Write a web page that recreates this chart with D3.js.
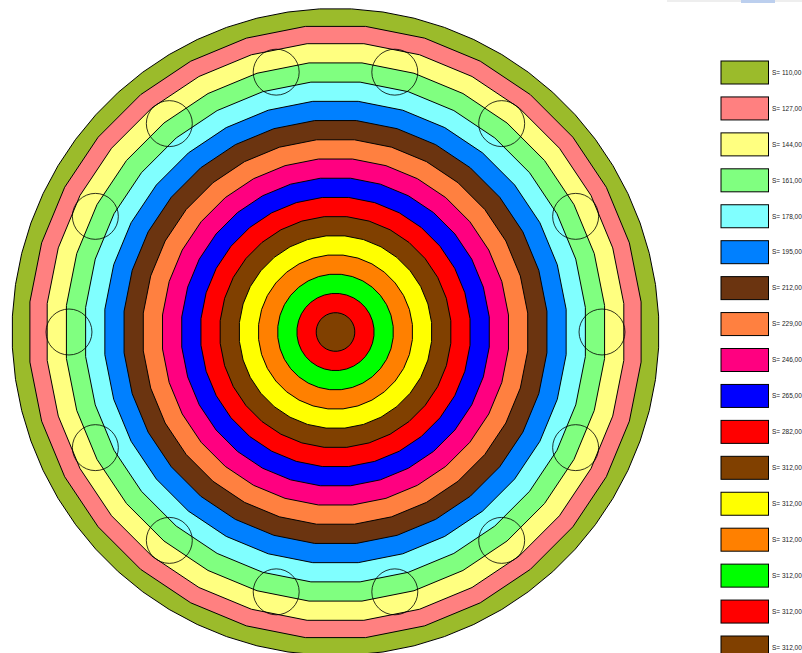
<!DOCTYPE html>
<html>
<head>
<meta charset="utf-8">
<script src="https://cdn.jsdelivr.net/npm/d3@7"></script>
<style>
  html, body { margin: 0; padding: 0; background: #fff; overflow: hidden; }
  svg { display: block; }
  text { font-family: "Liberation Sans", Arial, sans-serif; }
</style>
</head>
<body>
<svg id="canvas" width="802" height="653"></svg>
<script>
// Legend labels, top to bottom (outer ring first)
let labels = ['S= 110,00', 'S= 127,00', 'S= 144,00', 'S= 161,00', 'S= 178,00', 'S= 195,00',
              'S= 212,00', 'S= 229,00', 'S= 246,00', 'S= 265,00', 'S= 282,00', 'S= 312,00',
              'S= 312,00', 'S= 312,00', 'S= 312,00', 'S= 312,00', 'S= 312,00']

let colors = ['#9bbb2b', '#ff8080', '#ffff80', '#80ff80', '#80ffff', '#0080ff',
              '#6b3410', '#ff8040', '#ff0080', '#0000ff', '#ff0000', '#804000',
              '#ffff00', '#ff8000', '#00ff00', '#ff0000', '#804000']

// Ring depth, counted out from the centre
let depths = [16.75, 15.9, 15, 14, 13, 12, 11, 10, 9, 8, 7, 6, 5, 4, 3, 2, 1]

// Small circles on the pitch ring
let holeCount = 14
let holeDepth = 13.8
let holeSize = 1.19

let canvas = d3.select('#canvas')

let rScale = d3.scaleLinear().domain([0, 16.75]).range([0, 323.5])
let yScale = d3.scaleLinear().domain([0, labels.length - 1]).range([61, 636])
let swatchHeight = 23

// Browser tab remnant along the top edge
canvas.append('rect').attr('x', 667).attr('y', 0).attr('width', 135).attr('height', 2).attr('fill', '#eeeeee')
canvas.append('rect').attr('x', 741).attr('y', 0).attr('width', 34).attr('height', 3).attr('fill', '#bccfee')

let plot = canvas.append('g').attr('transform', 'translate(335.5,332)')

// Rings are faceted, flat side up; the outer edge has twice as many sides
let ringPath = (depth, i) => {
    let sides = i === 0 ? 64 : 32
    let step = 2 * Math.PI / sides
    return d3.lineRadial()
        .angle(a => a)
        .radius(rScale(depth))
        .curve(d3.curveLinearClosed)(d3.range(sides).map(k => (k + 0.5) * step))
}

plot.selectAll('path.ring')
    .data(depths)
    .enter()
    .append('path')
    .attr('class', 'ring')
    .attr('d', (d, i) => ringPath(d, i))
    .attr('fill', (d, i) => colors[i])
    .attr('stroke', '#000')
    .attr('stroke-width', 1)

plot.selectAll('circle.hole')
    .data(d3.range(holeCount))
    .enter()
    .append('circle')
    .attr('class', 'hole')
    .attr('cx', d => rScale(holeDepth) * Math.cos(d * 2 * Math.PI / holeCount))
    .attr('cy', d => rScale(holeDepth) * Math.sin(d * 2 * Math.PI / holeCount))
    .attr('r', rScale(holeSize))
    .attr('fill', 'none')
    .attr('stroke', '#000')
    .attr('stroke-width', 1)
    .attr('stroke-opacity', 0.8)

let legend = canvas.selectAll('g.legend')
    .data(labels)
    .enter()
    .append('g')
    .attr('class', 'legend')
    .attr('transform', (d, i) => `translate(721,${yScale(i)})`)

legend.append('rect')
    .attr('width', 47.5)
    .attr('height', swatchHeight)
    .attr('fill', (d, i) => colors[i])
    .attr('stroke', '#000')
    .attr('stroke-width', 1)

legend.append('text')
    .attr('x', 51)
    .attr('y', swatchHeight / 2)
    .attr('dy', '0.35em')
    .attr('font-size', 6.5)
    .attr('fill', '#222')
    .text(d => d)
</script>
</body>
</html>
